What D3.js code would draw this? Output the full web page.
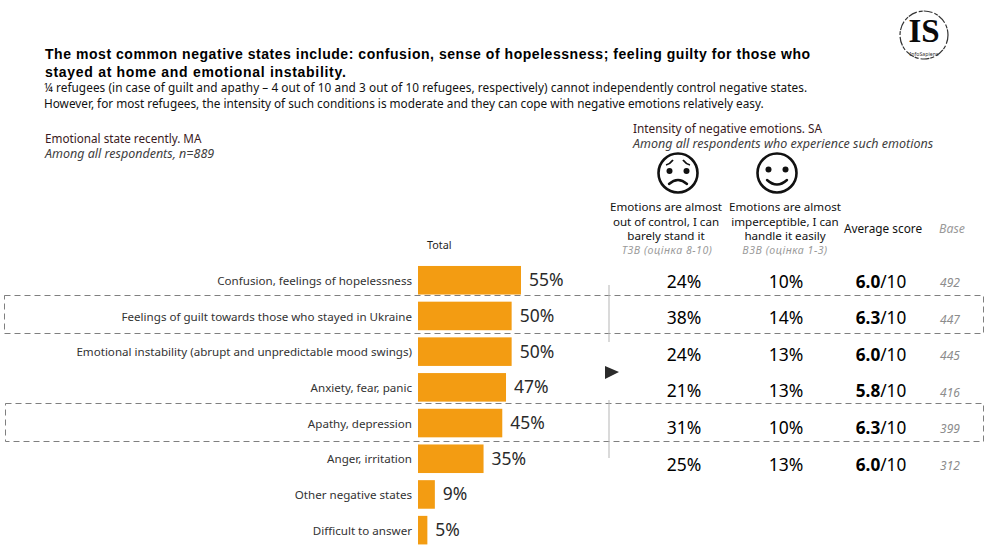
<!DOCTYPE html>
<html><head><meta charset="utf-8">
<script src="https://cdn.jsdelivr.net/npm/d3@7"></script>
<style>
html,body{margin:0;padding:0;background:#fff}
svg{display:block}
text{font-family:"Noto Sans",sans-serif}
</style></head><body>
<svg id="c" width="991" height="558"></svg>
<script>
const categories=["Confusion, feelings of hopelessness","Feelings of guilt towards those who stayed in Ukraine","Emotional instability (abrupt and unpredictable mood swings)","Anxiety, fear, panic","Apathy, depression","Anger, irritation","Other negative states","Difficult to answer"];
const totals=[55,50,50,47,45,35,9,5];
const top3=["24%","38%","24%","21%","31%","25%"];
const bottom3=["10%","14%","13%","13%","10%","13%"];
const scores=["6.0","6.3","6.0","5.8","6.3","6.0"];
const bases=[492,447,445,416,399,312];
const titleLines=["The most common negative states include: confusion, sense of hopelessness; feeling guilty for those who","stayed at home and emotional instability."];
const subtitleLines=["¼ refugees (in case of guilt and apathy – 4 out of 10 and 3 out of 10 refugees, respectively) cannot independently control negative states.","However, for most refugees, the intensity of such conditions is moderate and they can cope with negative emotions relatively easy."];
const col1Head=["Emotions are almost","out of control, I can","barely stand it"];
const col2Head=["Emotions are almost","imperceptible, I can","handle it easily"];

const svg=d3.select("#c");
const x=d3.scaleLinear().domain([0,55]).range([418,521]);
const y=d3.scaleBand().domain(categories).range([262.4,548]).paddingInner(0.2).paddingOuter(0.1);
const rowY=d3.scalePoint().domain(categories.slice(0,6)).range([287.5,470.5]);
const cy=d=>y(d)+y.bandwidth()/2;
const T=(px,py,s,o={})=>svg.append("text").attr("x",px).attr("y",py).text(s)
  .attr("font-size",o.size||11.5).attr("fill",o.fill||"#1f1f1f")
  .attr("text-anchor",o.anchor||"start").attr("font-weight",o.weight||null)
  .attr("font-style",o.italic?"italic":null)
  .style("font-family",o.family||null).style("letter-spacing",o.ls||null);

// headings
const titleSpacing=["0.545px","0.7px"], subSpacing=["0.06px","-0.01px"];
titleLines.forEach((s,i)=>T(45,59+i*18,s,{size:14,weight:"bold",fill:"#000",family:"'Liberation Sans',Arial,sans-serif",ls:titleSpacing[i]}));
subtitleLines.forEach((s,i)=>T(44,92+i*16,s,{size:11.8,fill:"#111",ls:subSpacing[i]}));
T(45,143,"Emotional state recently. MA",{size:11.7,fill:"#3a1a22"});
T(45,158,"Among all respondents, n=889",{size:12.5,italic:true,fill:"#404040"});
T(633,133,"Intensity of negative emotions. SA",{size:11.8,fill:"#3a1a22"});
T(633,148,"Among all respondents who experience such emotions",{size:12.5,italic:true,fill:"#404040"});
T(427,249,"Total",{size:10.8});

// faces
function face(cx,cyy,sad){
  const g=svg.append("g").attr("transform",`translate(${cx},${cyy})`).attr("fill","none").attr("stroke","#111");
  g.append("circle").attr("r",19.5).attr("stroke-width",2.6);
  [-8.5,8.5].forEach(d=>g.append("circle").attr("cx",d).attr("cy",sad?-2:-3.5).attr("r",3).attr("fill","#111").attr("stroke","none"));
  if(sad){
    g.append("path").attr("d","M-9,11 Q0,3 9,11").attr("stroke-width",2.4).attr("stroke-linecap","round");
    g.append("path").attr("d","M-12,-8 Q-8,-9 -5,-13").attr("stroke-width",1.8);
    g.append("path").attr("d","M12,-8 Q8,-9 5,-13").attr("stroke-width",1.8);
  } else {
    g.append("path").attr("d","M-10,7 Q0,16 10,7").attr("stroke-width",2.4).attr("stroke-linecap","round");
  }
}
face(678,173,true); face(777,173,false);

// column headers
col1Head.forEach((s,i)=>T(666,211+i*14.7,s,{size:11.6,anchor:"middle",fill:"#111"}));
col2Head.forEach((s,i)=>T(785,211+i*14.7,s,{size:11.6,anchor:"middle",fill:"#111"}));
T(883,233,"Average score",{size:11.8,anchor:"middle",fill:"#111"});
T(952,233,"Base",{size:12.3,anchor:"middle",italic:true,fill:"#9a9a9a"});
T(667,254,"T3B  (оцінка 8-10)",{size:10.6,anchor:"middle",italic:true,fill:"#9a9a9a",ls:"0.5px"});
T(785,254,"B3B (оцінка 1-3)",{size:10.6,anchor:"middle",italic:true,fill:"#9a9a9a",ls:"0.5px"});

// dashed boxes
[[4,295,979,38],[5,403,978,38]].forEach(b=>svg.append("rect").attr("x",b[0]+.5).attr("y",b[1]+.5).attr("width",b[2]).attr("height",b[3])
  .attr("fill","none").attr("stroke","#7f7f7f").attr("stroke-width",1).attr("stroke-dasharray","6 4"));

// divider & arrow
[[285,342],[400,458]].forEach(s=>svg.append("line").attr("x1",609).attr("x2",609).attr("y1",s[0]).attr("y2",s[1]).attr("stroke","#b5b5b5").attr("stroke-width",1));
svg.append("path").attr("d","M605,366 L619,372 L605,379 Z").attr("fill","#2b2b2b");

// bars
svg.append("g").selectAll("rect").data(categories).join("rect")
  .attr("x",x(0)).attr("y",d=>y(d)).attr("height",y.bandwidth())
  .attr("width",(d,i)=>x(totals[i])-x(0)).attr("fill","#f39c12");
categories.forEach((c,i)=>{
  T(412,cy(c)+4.6,c,{size:11.6,anchor:"end",fill:"#333"});
  T(x(totals[i])+8,cy(c)+6,totals[i]+"%",{size:17.5,fill:"#2a2a2a"});
});
// table
top3.forEach((v,i)=>{
  const p=rowY(categories[i]);
  T(684,p,v,{size:17.5,anchor:"middle",fill:"#000"});
  T(786,p,bottom3[i],{size:17.5,anchor:"middle",fill:"#000"});
  const t=T(881,p,"",{size:17.2,anchor:"middle",fill:"#000"});
  t.append("tspan").attr("font-weight","bold").text(scores[i]);
  t.append("tspan").text("/10");
  T(950,p-.5,bases[i],{size:12,anchor:"middle",italic:true,fill:"#8c8c8c"});
});

// logo
const lg=svg.append("g").attr("transform","translate(924,35)");
lg.append("circle").attr("r",24).attr("fill","none").attr("stroke","#333").attr("stroke-width",1.2).attr("stroke-dasharray","9 2 4 1");
lg.append("text").attr("y",7).attr("text-anchor","middle").attr("font-size",33).attr("fill","#0a0a0a").attr("font-weight","bold").style("font-family","'Liberation Serif',serif").text("IS");
lg.append("text").attr("y",20.5).attr("text-anchor","middle").attr("font-size",5.2).attr("fill","#333").text("InfoSapiens");
</script></body></html>
